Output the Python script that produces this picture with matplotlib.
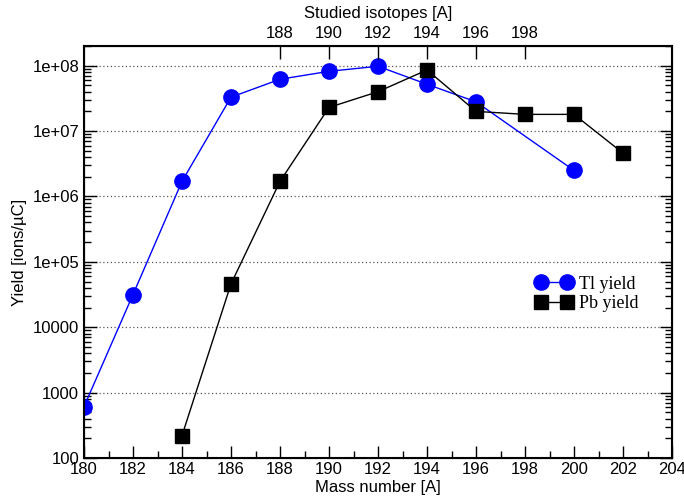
import matplotlib
matplotlib.use("Agg")
import matplotlib.pyplot as plt
from matplotlib.ticker import FixedLocator, FixedFormatter, LogLocator, NullFormatter, MultipleLocator

plt.rcParams['font.family'] = ['Liberation Sans', 'DejaVu Sans']

tl_mass = [180, 182, 184, 186, 188, 190, 192, 194, 196, 200]
tl_yield = [610, 31600, 1.7e6, 3.3e7, 6.2e7, 8.2e7, 9.8e7, 5.2e7, 2.8e7, 2.5e6]

pb_mass = [184, 186, 188, 190, 192, 194, 196, 198, 200, 202]
pb_yield = [220, 4.6e4, 1.7e6, 2.3e7, 4.0e7, 8.6e7, 2.0e7, 1.8e7, 1.8e7, 4.6e6]

y_ticks = [100, 1000, 10000, 1e5, 1e6, 1e7, 1e8]
y_labels = ['100', '1000', '10000', '1e+05', '1e+06', '1e+07', '1e+08']
top_ticks = [188, 190, 192, 194, 196, 198]

fig = plt.figure(figsize=(6.84, 5.01), dpi=100)
ax = fig.add_axes([84/684, 43/501, (672-84)/684, (458-46)/501])

ax.plot(tl_mass, tl_yield, color='#0000ff', lw=1, marker='o', ms=11,
        markerfacecolor='#0000ff', markeredgecolor='#0000ff', label='Tl yield', zorder=3)
ax.plot(pb_mass, pb_yield, color='black', lw=1, marker='s', ms=10,
        markerfacecolor='black', markeredgecolor='black', label='Pb yield', zorder=3)

ax.set_yscale('log')
ax.set_xlim(180, 204)
ax.set_ylim(100, 2e8)
ax.yaxis.set_major_locator(FixedLocator(y_ticks))
ax.yaxis.set_major_formatter(FixedFormatter(y_labels))
ax.yaxis.set_minor_locator(LogLocator(base=10, subs=range(2, 10)))
ax.yaxis.set_minor_formatter(NullFormatter())
ax.xaxis.set_major_locator(MultipleLocator(2))
ax.xaxis.set_minor_locator(MultipleLocator(1))

for y in y_ticks:
    ax.axhline(y, color='#555555', lw=0.9, ls=(0, (1, 2)), zorder=1)

ax.tick_params(axis='both', which='major', direction='in', length=9, width=1,
               labelsize=12, right=True, top=False)
ax.tick_params(axis='both', which='minor', direction='in', length=5, width=1, right=True, top=False)
ax.tick_params(axis='x', which='major', pad=3)
for s in ax.spines.values():
    s.set_linewidth(1.5)

ax.set_xlabel('Mass number [A]', fontsize=12, labelpad=2)
ax.set_ylabel('Yield [ions/\u00b5C]', fontsize=12, labelpad=4)

ax2 = ax.twiny()
ax2.set_xlim(ax.get_xlim())
ax2.set_xticks(top_ticks)
ax2.set_xticklabels([str(t) for t in top_ticks])
ax2.tick_params(axis='x', direction='in', length=9, width=1, labelsize=12)
ax2.set_xlabel('Studied isotopes [A]', fontsize=12, labelpad=6)

leg = ax.legend(loc='upper left', bbox_to_anchor=(0.741, 0.482), frameon=False,
                prop={'family': 'Liberation Serif', 'size': 13}, handlelength=2.0,
                numpoints=2, handletextpad=0.4, labelspacing=0.12)

fig.savefig('out.png', dpi=100)
